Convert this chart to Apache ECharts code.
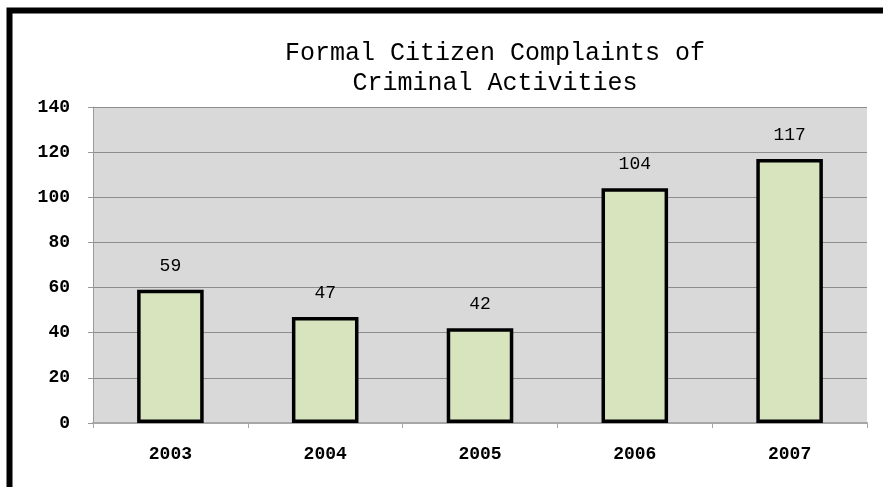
<!DOCTYPE html>
<html>
<head>
<meta charset="utf-8">
<script src="https://cdn.jsdelivr.net/npm/echarts@6/dist/echarts.min.js"></script>
<style>
  html, body { margin: 0; padding: 0; background: #ffffff; }
  #chart { width: 883px; height: 487px; }
</style>
</head>
<body>
<div id="chart"></div>
<script>
// Yearly counts of formal citizen complaints
const years = ['2003', '2004', '2005', '2006', '2007'];
const complaints = [59, 47, 42, 104, 117];
const yTicks = { min: 0, max: 140, interval: 20 };

const chart = echarts.init(document.getElementById('chart'), null, { renderer: 'canvas' });
const mono = '"Liberation Mono", "Courier New", monospace';

chart.setOption({
  backgroundColor: '#ffffff',
  animation: false,
  title: {
    text: 'Formal Citizen Complaints of\nCriminal Activities',
    left: 490,
    top: 33,
    textAlign: 'center',
    textStyle: {
      fontFamily: mono,
      fontSize: 25,
      fontWeight: 'normal',
      lineHeight: 30,
      color: '#000000'
    }
  },
  graphic: [
    {
      type: 'rect',
      silent: true,
      z: 100,
      shape: { x: 9.5, y: 10.5, width: 900, height: 520 },
      style: { fill: 'none', stroke: '#000000', lineWidth: 6 }
    }
  ],
  grid: {
    left: 93,
    top: 107,
    right: 16,
    bottom: 64,
    show: true,
    backgroundColor: '#d9d9d9',
    borderWidth: 0
  },
  xAxis: {
    type: 'category',
    data: years,
    axisLine: { show: true, lineStyle: { color: '#a6a6a6', width: 2 } },
    axisTick: { show: true, length: 5, alignWithLabel: false, lineStyle: { color: '#a6a6a6', width: 1 } },
    axisLabel: {
      margin: 22,
      fontFamily: mono,
      fontSize: 18,
      fontWeight: 'bold',
      color: '#000000'
    }
  },
  yAxis: {
    type: 'value',
    min: yTicks.min,
    max: yTicks.max,
    interval: yTicks.interval,
    axisLine: { show: true, lineStyle: { color: '#999999', width: 1 } },
    axisTick: { show: true, length: 5, lineStyle: { color: '#999999' } },
    splitLine: { show: true, lineStyle: { color: '#8c8c8c', width: 1 } },
    axisLabel: {
      margin: 23,
      fontFamily: mono,
      fontSize: 18,
      fontWeight: 'bold',
      color: '#000000'
    }
  },
  series: [
    {
      type: 'bar',
      data: complaints,
      barWidth: '43%',
      itemStyle: {
        color: '#d7e4bd',
        borderColor: '#000000',
        borderWidth: 3.5
      },
      label: {
        show: true,
        position: 'top',
        distance: 15,
        fontFamily: mono,
        fontSize: 18,
        color: '#000000'
      }
    }
  ]
});
</script>
</body>
</html>
